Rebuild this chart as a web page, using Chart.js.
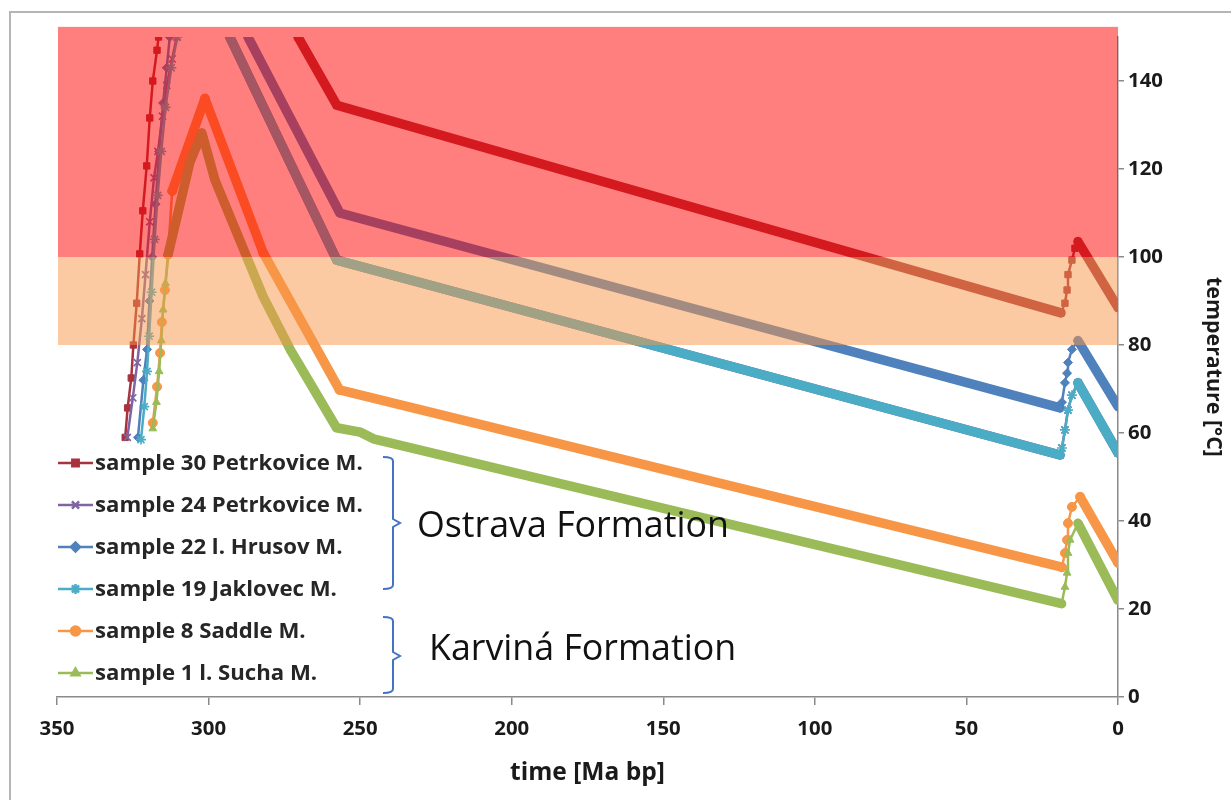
<!DOCTYPE html>
<html><head><meta charset="utf-8">
<script src="https://cdn.jsdelivr.net/npm/chart.js@4"></script>
<style>html,body{margin:0;padding:0;background:#fff}#wrap{width:1231px;height:800px;position:relative}</style>
</head><body><div id="wrap"><canvas id="c" width="1231" height="800"></canvas></div>
<script>
// ---------- DATA (time in Ma before present, temperature in °C) ----------
const seriesLabels = ['sample 30 Petrkovice M.','sample 24 Petrkovice M.','sample 22 l. Hrusov M.','sample 19 Jaklovec M.','sample 8 Saddle M.','sample 1 l. Sucha M.'];

const s30Time = [327.5,326.7,325.5,324.8,323.7,322.7,321.7,320.4,319.4,318.4,317,316.5, 293, 270.5,257.7,18.8,17.5,16.8,16.5,15.2,14.2,13.2,0];
const s30Temp = [59,65.7,72.5,80,89.5,100.7,110.5,120.7,131.6,140,147,150, null, 150,134.5,87.3,89.5,92.5,96,99.3,102,103.5,88.5];

const s24Time = [326.8,325,323.5,322,320.8,319.4,318,316.7,315.2,313.8,312,310.5, 300, 293,257.7,19.1,18.5,17.5,16.5,15.2,13.2,0];
const s24Temp = [59,68,76,86,96,108,118,124,132,139,145,150, null, 150,99.3,55,56.6,60.7,65.2,68.6,71.4,55.5];

const s22Time = [323.3,321.5,320.3,319.5,318.6,317.5,316.3,315,313.8,312.8, 300, 287,256.7,19.1,18.5,17.5,16.8,16.5,15.2,13.2,0];
const s22Temp = [59,72,79,90,100,112,124,135,143,150, null, 150,110,65.7,67,71.4,73.6,76,79,81,66];

const s19Time = [322.3,321.2,320.3,319.6,318.8,317.8,316.8,315.6,314.2,312.3,310.3, 300, 293,257.7,19.1,18.5,17.5,16.5,15.2,13.2,0];
const s19Temp = [58.5,66,74,82,92,104,114,124,134,143,150, null, 150,99.3,55,56.6,60.7,65.2,68.6,71.4,55.5];

const s8Time = [318.4,317,316,315.4,314.4,313.4,312,301.2,282,256.8,18.5,17.5,16.8,16.5,15.2,12.5,0];
const s8Temp = [62.3,70.5,78.2,85.2,92.5,100.5,115,136,101,69.8,29.5,32.7,35.7,39.5,43.2,45.5,30.5];

const s1Time = [318.4,317.2,316.3,315.6,315,314.2,313.2,306.2,302.2,297.9,287.4,282,273,257.8,250,245.3,18.6,17.5,16.8,16.5,15.8,13.2,0];
const s1Temp = [61,67,74,81,88,94,101,121.4,128.2,117.5,100,91,78.9,61.2,60.2,58.6,21.2,25,28.2,32.7,35.7,39.5,22];

const xTickValues = [350,300,250,200,150,100,50,0];
const yTickValues = [0,20,40,60,80,100,120,140];
const bandLimits = [80, 100, 152.3];   // temperature windows (orange, red)
const formationNames = ['Ostrava Formation', 'Karviná Formation'];
const xTitle = 'time [Ma bp]';
const yTitle = 'temperature [°C]';

// ---------- STYLE ----------
const colors = ['#A8323E','#8064A2','#4F81BD','#4BACC6','#F79646','#9BBB59'];
const styles = ['rect','crossRot','rectRot','star','circle','triangle'];
const bandColors = ['rgba(247,150,70,0.5)','rgba(255,0,0,0.5)'];
const FAMILY = 'Open Sans';

const mctx = document.createElement('canvas').getContext('2d');
function fit(text, width, weight) {
  mctx.font = weight + ' 100px "' + FAMILY + '"';
  return 100 * width / mctx.measureText(text).width;
}
const tickSize = fit('350', 35, 'bold');
const xTitleSize = fit(xTitle, 155, 'bold');
const yTitleSize = fit(yTitle, 180, 'bold');
const legendSize = fit(seriesLabels[0], 268, 'bold');
const formSize = fit(formationNames[0], 312, 'normal');

const times = [s30Time,s24Time,s22Time,s19Time,s8Time,s1Time];
const temps = [s30Temp,s24Temp,s22Temp,s19Temp,s8Temp,s1Temp];

const segWidth = ctx => {
  const dx = Math.abs(ctx.p0.parsed.x - ctx.p1.parsed.x);
  const dy = Math.abs(ctx.p0.parsed.y - ctx.p1.parsed.y);
  return (dx > 3 && dy / dx < 4) ? 9.5 : 2.5;
};

const datasets = seriesLabels.map((label, i) => ({
  label,
  data: times[i].map((t, k) => ({x: t, y: temps[i][k]})),
  borderColor: colors[i],
  backgroundColor: colors[i],
  pointBackgroundColor: colors[i],
  pointBorderColor: colors[i],
  pointStyle: styles[i],
  pointRadius: styles[i] === 'star' || styles[i] === 'crossRot' ? 5 : 4.5,
  pointBorderWidth: styles[i] === 'star' || styles[i] === 'crossRot' ? 1.6 : 1,
  borderWidth: 2.5,
  borderJoinStyle: 'round',
  borderCapStyle: 'round',
  segment: { borderWidth: segWidth },
  spanGaps: false,
  tension: 0,
  clip: 0,
  order: -i
}));

const framePlugin = {
  id: 'frame',
  beforeDraw(chart) {
    const c = chart.ctx;
    c.save();
    c.fillStyle = '#fff';
    c.fillRect(0, 0, chart.width, chart.height);
    c.strokeStyle = '#b5b5b5';
    c.lineWidth = 2;
    c.strokeRect(10, 12, chart.width + 20, chart.height + 20);
    c.restore();
  }
};

const bandPlugin = {
  id: 'bands',
  afterDatasetsDraw(chart) {
    const c = chart.ctx, y = chart.scales.y, a = chart.chartArea;
    c.save();
    for (let i = 0; i < bandColors.length; i++) {
      const top = y.getPixelForValue(bandLimits[i + 1]);
      const bot = y.getPixelForValue(bandLimits[i]);
      c.fillStyle = bandColors[i];
      c.fillRect(a.left + 1, top, a.right - a.left - 1, bot - top);
    }
    c.restore();
  }
};

const legendPlugin = {
  id: 'customLegend',
  afterDraw(chart) {
    const c = chart.ctx;
    const x0 = 58, x1 = 93, tx = 95, y0 = 463, step = 42;
    c.save();
    chart.data.datasets.forEach((ds, i) => {
      const yy = y0 + i * step;
      c.strokeStyle = ds.borderColor;
      c.lineWidth = 2.5;
      c.beginPath(); c.moveTo(x0, yy); c.lineTo(x1, yy); c.stroke();
      c.fillStyle = ds.borderColor;
      Chart.helpers.drawPoint(c, {pointStyle: ds.pointStyle, radius: ds.pointRadius, rotation: 0, borderWidth: ds.pointBorderWidth}, (x0 + x1) / 2, yy);
      c.fillStyle = '#262626';
      c.font = 'bold ' + legendSize + 'px "' + FAMILY + '"';
      c.textBaseline = 'middle';
      c.textAlign = 'left';
      c.fillText(ds.label, tx, yy + 1);
    });
    // brackets
    c.strokeStyle = '#4472C4';
    c.lineWidth = 2;
    const brace = (top, bot, tip) => {
      const xa = 383, xb = 393, xt = 400;
      c.beginPath();
      c.moveTo(xa, top); c.quadraticCurveTo(xb, top, xb, top + 4);
      c.lineTo(xb, tip - 4); c.lineTo(xt, tip); c.lineTo(xb, tip + 4);
      c.lineTo(xb, bot - 4); c.quadraticCurveTo(xb, bot, xa, bot);
      c.stroke();
    };
    brace(457, 589, 523);
    brace(617, 693, 656);
    c.fillStyle = '#111';
    c.font = formSize + 'px "' + FAMILY + '"';
    c.textBaseline = 'middle';
    c.fillText(formationNames[0], 417, 527);
    c.fillText(formationNames[1], 429, 650);
    c.restore();
  }
};

Chart.defaults.font.family = FAMILY;
Chart.defaults.color = '#1a1a1a';

new Chart(document.getElementById('c'), {
  type: 'line',
  data: { datasets },
  plugins: [framePlugin, bandPlugin, legendPlugin],
  options: {
    responsive: false,
    animation: false,
    layout: { padding: { left: 57, top: 37, right: 0, bottom: 0 } },
    plugins: { legend: { display: false }, tooltip: { enabled: false } },
    scales: {
      x: {
        type: 'linear', reverse: true, min: 0, max: 350,
        afterBuildTicks: s => { s.ticks = xTickValues.map(v => ({value: v})); },
        afterFit: s => { s.height = 103; },
        grid: { display: true, drawOnChartArea: false, drawTicks: true, tickLength: 8, color: '#8a8a8a', lineWidth: 1.5 },
        border: { display: true, color: '#8a8a8a', width: 1.5 },
        ticks: { font: { size: tickSize, weight: 'bold', lineHeight: 1.2 }, padding: 12, color: '#1a1a1a', maxRotation: 0 },
        title: { display: true, text: xTitle, font: { size: xTitleSize, weight: 'bold', lineHeight: 1.2 }, padding: { top: 0, bottom: 27 - xTitleSize * 0.6 }, color: '#1a1a1a' }
      },
      y: {
        type: 'linear', position: 'right', min: 0, max: 150,
        afterBuildTicks: s => { s.ticks = yTickValues.map(v => ({value: v})); },
        afterFit: s => { s.width = 113; },
        grid: { display: true, drawOnChartArea: false, drawTicks: true, tickLength: 6, color: '#8a8a8a', lineWidth: 1.5 },
        border: { display: true, color: '#8a8a8a', width: 1.5 },
        ticks: { font: { size: tickSize, weight: 'bold', lineHeight: 1.2 }, padding: 4, color: '#1a1a1a' },
        title: { display: true, text: yTitle, font: { size: yTitleSize, weight: 'bold', lineHeight: 1.2 }, padding: { top: 18 - yTitleSize * 0.6, bottom: 0 }, color: '#1a1a1a' }
      }
    }
  }
});
</script></body></html>
